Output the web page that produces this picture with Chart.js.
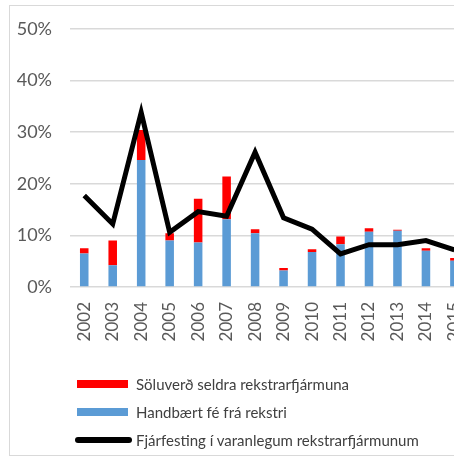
<!DOCTYPE html>
<html>
<head>
<meta charset="utf-8">
<script src="https://cdn.jsdelivr.net/npm/chart.js@4.4.1/dist/chart.umd.min.js"></script>
<style>
  body { margin: 0; width: 454px; height: 458px; overflow: hidden; background: #fff; position: relative; }
  #frame { position: absolute; left: 9px; top: 5px; width: 520px; height: 449px; border: 1px solid #d9d9d9; }
  #wrap { position: absolute; left: 0; top: 0; width: 490px; height: 458px; }
  #legend { position: absolute; left: 75px; top: 370px; font-family: Lato, sans-serif; font-size: 15px; color: #404040; }
  .item { height: 28px; display: flex; align-items: center; }
  .sw { display: inline-block; margin-right: 4px; }
</style>
</head>
<body>
<div id="frame"></div>
<div id="wrap"><canvas id="chart" width="490" height="458"></canvas></div>
<div id="legend"></div>
<script>
var years = ['2002','2003','2004','2005','2006','2007','2008','2009','2010','2011','2012','2013','2014','2015'];
var handbaert = [6.5, 4.2, 24.6, 9.0, 8.6, 13.1, 10.4, 3.2, 6.8, 8.3, 10.7, 10.9, 7.0, 5.1];
var soluverd = [1.0, 4.8, 5.8, 1.4, 8.5, 8.3, 0.8, 0.5, 0.5, 1.5, 0.7, 0.2, 0.5, 0.5];
var fjarfesting = [17.7, 12.2, 33.8, 10.6, 14.6, 13.7, 26.1, 13.4, 11.2, 6.4, 8.2, 8.2, 9.0, 7.2];
var yTicks = [0, 10, 20, 30, 40, 50];

var ctx = document.getElementById('chart');
var myChart = new Chart(ctx, {
  type: 'bar',
  data: {
    labels: years,
    datasets: [{
      type: 'line',
      label: 'Fjárfesting í varanlegum rekstrarfjármunum',
      data: fjarfesting,
      borderColor: '#000000',
      backgroundColor: '#000000',
      borderWidth: 5,
      pointRadius: 0,
      tension: 0,
      stack: 'line',
      order: 0
    }, {
      label: 'Handbært fé frá rekstri',
      data: handbaert,
      backgroundColor: '#5b9bd5',
      stack: 'bars',
      categoryPercentage: 0.3,
      barPercentage: 1,
      order: 1
    }, {
      label: 'Söluverð seldra rekstrarfjármuna',
      data: soluverd,
      backgroundColor: '#ff0000',
      stack: 'bars',
      categoryPercentage: 0.3,
      barPercentage: 1,
      order: 2
    }]
  },
  options: {
    responsive: false,
    animation: false,
    layout: { padding: { top: 18, right: 5, left: 0, bottom: 0 } },
    plugins: { legend: { display: false }, tooltip: { enabled: false } },
    scales: {
      x: {
        stacked: true,
        grid: { display: false, drawTicks: false },
        border: { display: false },
        ticks: {
          minRotation: 90, maxRotation: 90, padding: 15,
          color: '#595959', font: { family: 'Lato', size: 17 }
        },
        afterFit: function(scale) { scale.height = 171; }
      },
      y: {
        stacked: true,
        min: 0, max: 50,
        grid: { color: '#d9d9d9', lineWidth: 1.5, drawTicks: false },
        border: { display: false },
        ticks: {
          stepSize: 10, padding: 18,
          color: '#595959', font: { family: 'Lato', size: 18 },
          callback: function(v) { return yTicks.indexOf(v) >= 0 ? v + '%' : ''; }
        },
        afterFit: function(scale) { scale.width = 70; }
      }
    }
  }
});

// legend in the order shown on the picture
var legend = document.getElementById('legend');
[2, 1, 0].forEach(function(i) {
  var ds = myChart.data.datasets[i];
  var row = document.createElement('div');
  row.className = 'item';
  var sw = document.createElement('span');
  sw.className = 'sw';
  if (ds.type === 'line') {
    sw.style.cssText = 'width:57px;height:6px;border-radius:3px;background:' + ds.borderColor;
  } else {
    sw.style.cssText = 'width:51px;height:8px;margin-left:2px;margin-right:8px;background:' + ds.backgroundColor;
  }
  row.appendChild(sw);
  row.appendChild(document.createTextNode(ds.label));
  legend.appendChild(row);
});
</script>
</body>
</html>
